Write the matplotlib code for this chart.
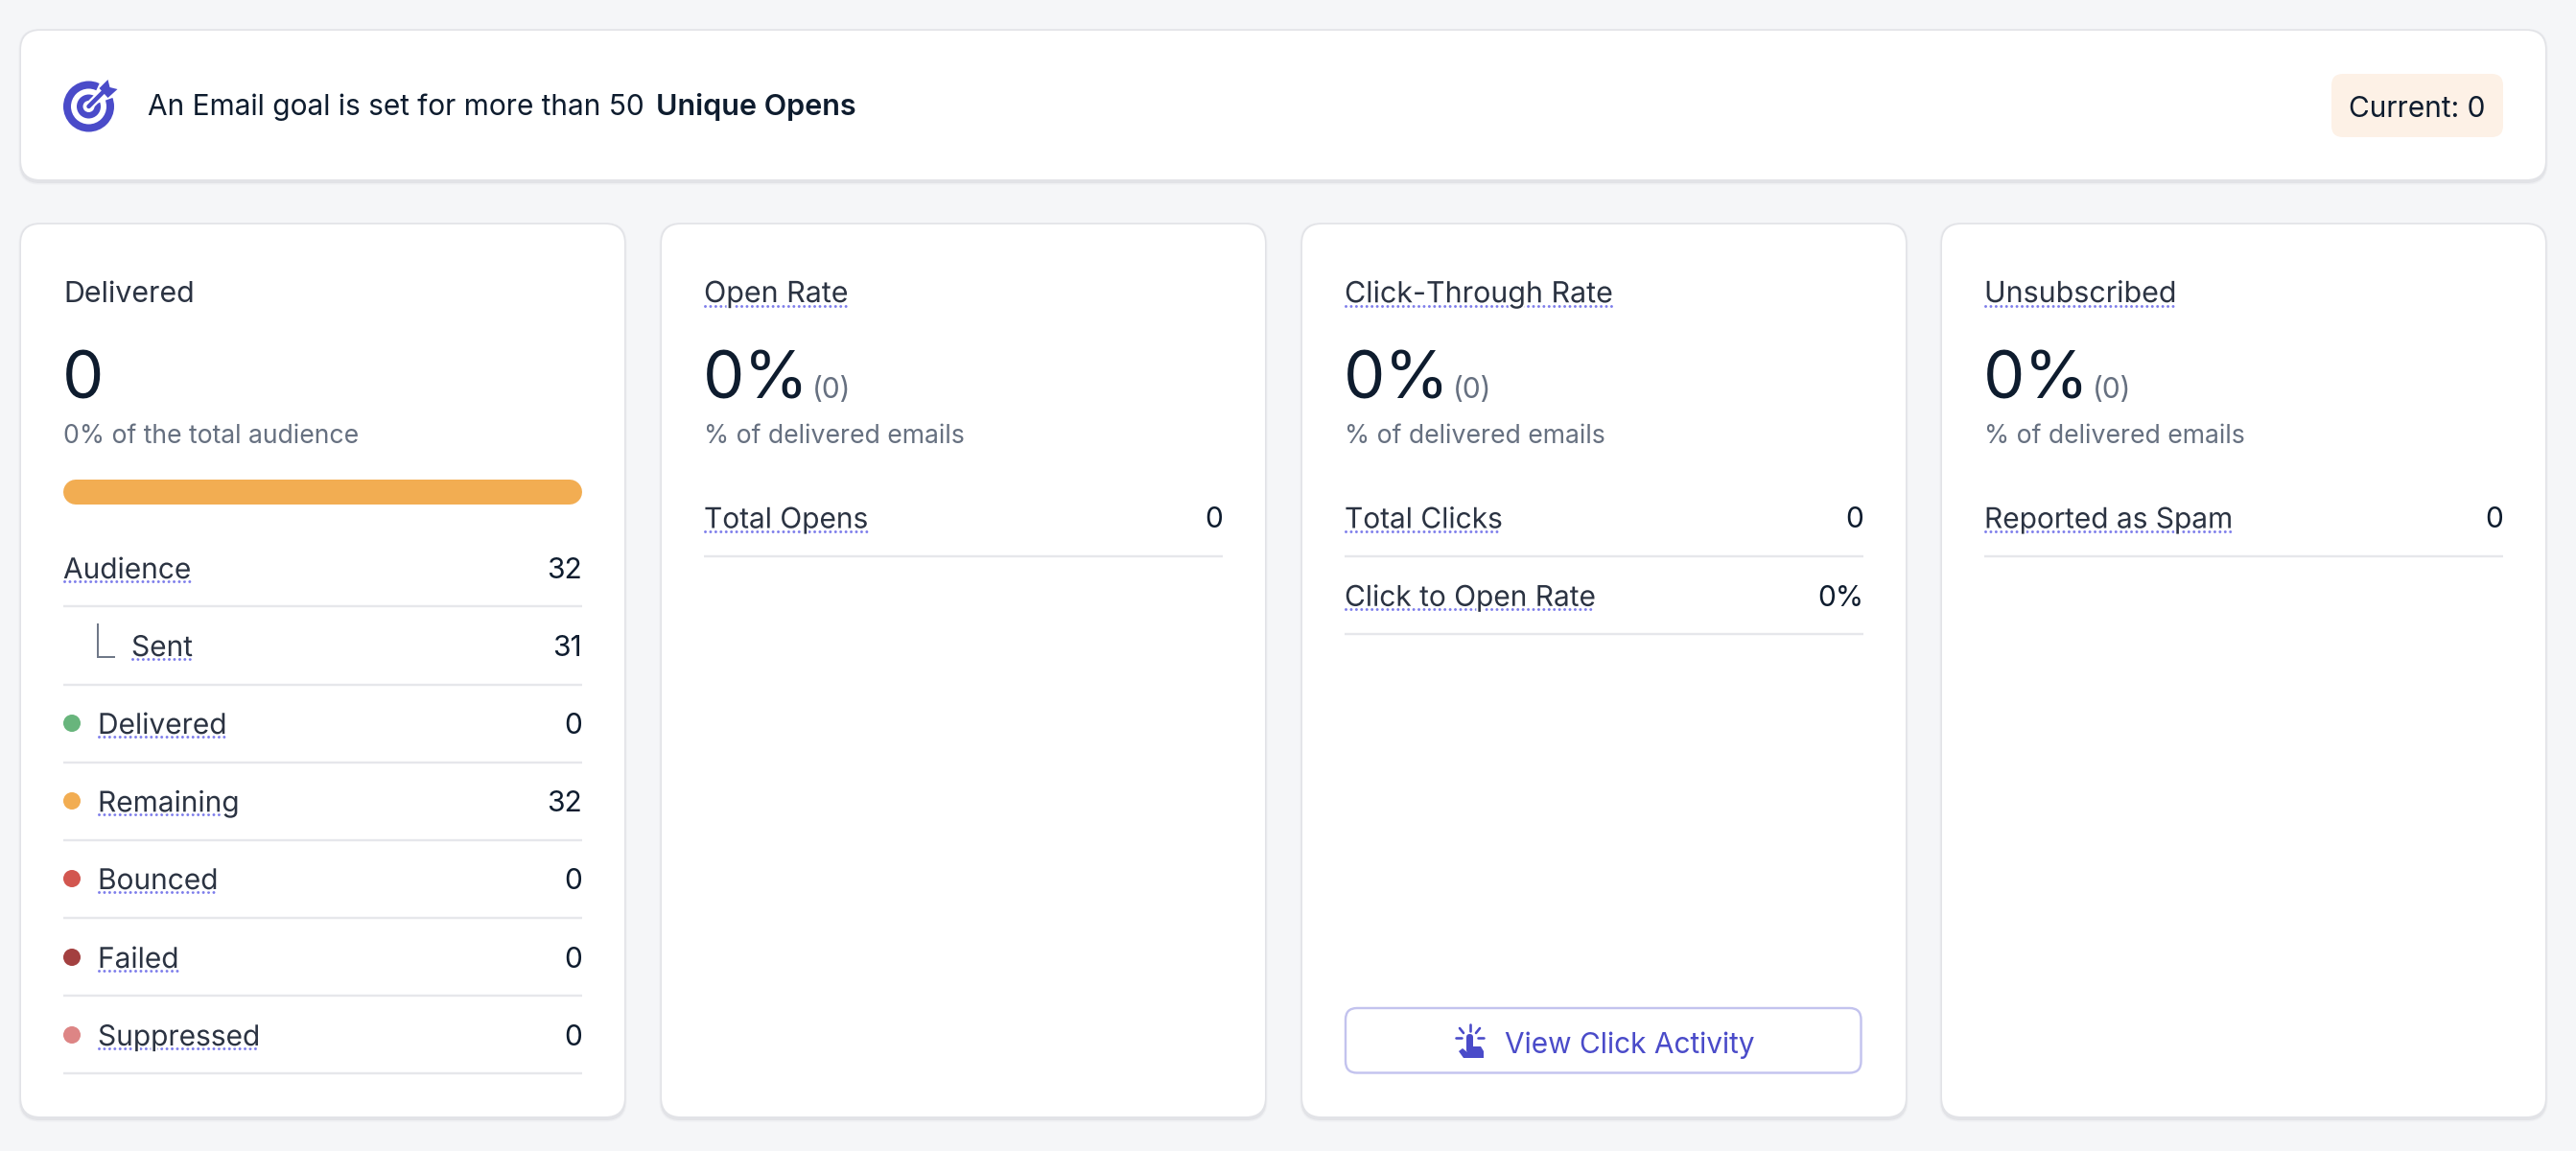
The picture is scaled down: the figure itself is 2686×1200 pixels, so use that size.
import matplotlib
matplotlib.use("Agg")
import matplotlib.pyplot as plt
import matplotlib.patheffects as pe
from matplotlib.patches import FancyBboxPatch, Wedge, Circle, Polygon

plt.rcParams['font.family'] = ['Inter', 'DejaVu Sans']

# ---- content ----
goal_text = "An Email goal is set for more than 50 "
goal_bold = "Unique Opens"
current_label = "Current: 0"

card_titles = ["Delivered", "Open Rate", "Click-Through Rate", "Unsubscribed"]
card_values = ["0", "0%", "0%", "0%"]
card_counts = ["", "(0)", "(0)", "(0)"]
card_notes = ["0% of the total audience", "% of delivered emails",
              "% of delivered emails", "% of delivered emails"]
title_dotted = [False, True, True, True]

delivery_labels = ["Audience", "Sent", "Delivered", "Remaining", "Bounced", "Failed", "Suppressed"]
delivery_values = ["32", "31", "0", "32", "0", "0", "0"]
delivery_colors = [None, None, "#68b57c", "#f2ad52", "#d2564f", "#a34040", "#dd8585"]

open_labels = ["Total Opens"]
open_values = ["0"]
click_labels = ["Total Clicks", "Click to Open Rate"]
click_values = ["0", "0%"]
unsub_labels = ["Reported as Spam"]
unsub_values = ["0"]
button_label = "View Click Activity"

# ---- style ----
BG = "#f5f6f8"; INK = "#0e1c2e"; TITLE = "#2b3342"; GREY = "#667080"
LINE = "#e6e7eb"; DOT = "#7d7deb"; BRAND = "#4a4bc9"
W, H = 2686, 1200
CARD_X = [22, 690, 1358, 2025]
CARD_W = 629
PAD = 44

fig = plt.figure(figsize=(W / 100, H / 100), dpi=100, facecolor=BG)
ax = fig.add_axes([0, 0, 1, 1])
ax.set_xlim(0, W); ax.set_ylim(H, 0); ax.axis("off")

def px(v):
    return v * 72 / 100

def rbox(x0, y0, x1, y1, r, z, fc, ec="none", lw=0):
    ax.add_patch(FancyBboxPatch((x0 + r, y0 + r), x1 - x0 - 2 * r, y1 - y0 - 2 * r,
                                boxstyle=f"round,pad={r},rounding_size={r}", fc=fc, ec=ec, lw=lw, zorder=z))

def card(x0, y0, x1, y1, r=20):
    rbox(x0 - 2.5, y0 - 2, x1 + 2.5, y1 + 5.5, r + 2, 0.9, "#eeeff2")
    rbox(x0 - 1.5, y0 - 1.5, x1 + 1.5, y1 + 4, r + 1, 1, "#e2e3e7")
    rbox(x0, y0, x1, y1, r, 2, "white")

def label(x, y, s, size, color=INK, ha="left", weight="normal", skip=False):
    t = ax.text(x, y, s, fontsize=size, color=color, ha=ha, va="center_baseline", weight=weight, zorder=5)
    if skip:
        t.set_path_effects([pe.withStroke(linewidth=px(4), foreground="white")])
    return t

def dotted(x0, x1, y):
    ax.plot([x0, x1], [y, y], color=DOT, lw=px(3), linestyle=(0, (0.01, 1.8)),
            dash_capstyle="round", zorder=4)

def rule(x0, x1, y):
    ax.plot([x0, x1], [y, y], color=LINE, lw=px(2.4), solid_capstyle="butt", zorder=3)

fig.canvas.draw()
rend = fig.canvas.get_renderer()

ROW_SIZE = 21.5
TITLE_SIZE = 21.9
NOTE_SIZE = 19.15
BIG_SIZE = 49.5

def row(y, text_x, name, value, right):
    t = label(text_x, y, name, ROW_SIZE, TITLE, skip=True)
    bb = t.get_window_extent(rend)
    dotted(text_x + 1, text_x + bb.width - 1, y + 14)
    label(right, y, value, ROW_SIZE, INK, ha="right")

# top card
card(22, 32, 2654, 187)
label(154, 108.5, goal_text, ROW_SIZE, INK)
label(684, 108.5, goal_bold, 22, INK, weight="semibold")
rbox(2431, 77, 2610, 143, 12, 3, "#fdf1e6")
label(2449, 111, current_label, ROW_SIZE, INK)

# target icon
cx, cy = 92.5, 111
ax.add_patch(Circle((cx, cy), 26.5, fc=BRAND, ec="none", zorder=4))
ax.add_patch(Circle((cx, cy), 18.5, fc="white", ec="none", zorder=4))
ax.add_patch(Circle((cx, cy), 12.5, fc=BRAND, ec="none", zorder=4))
ax.add_patch(Circle((cx, cy), 6, fc="white", ec="none", zorder=4))
ax.add_patch(Wedge((cx, cy), 30, -65, -20, fc="white", ec="none", zorder=4))
ax.plot([cx + 1, cx + 20], [cy - 1, cy - 20], color="white", lw=px(9), solid_capstyle="butt", zorder=4.5)
ax.plot([cx, cx + 18], [cy, cy - 18], color=BRAND, lw=px(4.5), solid_capstyle="round", zorder=5)
ax.add_patch(Polygon([(cx + 11, cy - 19), (cx + 20, cy - 28), (cx + 22, cy - 20),
                      (cx + 30, cy - 18), (cx + 20, cy - 9)], fc=BRAND, ec="none", zorder=5))

# four metric cards
for x, title, val, cnt, note, has_dot in zip(CARD_X, card_titles, card_values, card_counts, card_notes, title_dotted):
    card(x, 234, x + CARD_W, 1164)
    tx = x + PAD
    t = label(tx, 304, title, TITLE_SIZE, TITLE, skip=has_dot)
    if has_dot:
        dotted(tx + 1, tx + t.get_window_extent(rend).width - 1, 319)
    label(tx - 1, 390, val, BIG_SIZE, INK)
    if cnt:
        label(tx + 113, 404, cnt, ROW_SIZE, GREY)
    label(tx, 452, note, NOTE_SIZE, GREY)

# delivered card body
x0 = CARD_X[0] + PAD; x1 = x0 + 541
ax.plot([x0 + 13, x1 - 13], [513, 513], color="#f2ad52", lw=px(26), solid_capstyle="round", zorder=3)
row_y = [592, 673, 754, 835, 916, 998, 1079]
sep_y = [632, 714, 795, 876, 957, 1038, 1119]
for name, v, col, y, sy in zip(delivery_labels, delivery_values, delivery_colors, row_y, sep_y):
    text_x = x0 if name == "Audience" else (137 if name == "Sent" else 102)
    row(y, text_x, name, v, x1)
    rule(x0, x1, sy)
    if col:
        ax.add_patch(Circle((75, y), 9, fc=col, ec="none", zorder=5))
ax.plot([102, 102, 119], [651, 685, 685], color="#6f7888", lw=px(2), solid_joinstyle="miter", zorder=4)

def simple_rows(cx_left, labels, values):
    xl = cx_left + PAD; xr = xl + 541
    for i, (n, v) in enumerate(zip(labels, values)):
        row(539.5 + i * 81, xl, n, v, xr)
        rule(xl, xr, 580 + i * 81)

simple_rows(CARD_X[1], open_labels, open_values)
simple_rows(CARD_X[2], click_labels, click_values)
simple_rows(CARD_X[3], unsub_labels, unsub_values)

# button
rbox(1403, 1051, 1940.5, 1118.5, 12, 3, "white", "#c3c3ee", px(2.4))
label(1569, 1087, button_label, ROW_SIZE, BRAND)

# pointer icon
ax.add_patch(FancyBboxPatch((1529, 1078), 7, 20, boxstyle="round,pad=0,rounding_size=3.5", fc=BRAND, ec="none", zorder=5))
ax.add_patch(Polygon([(1521, 1096), (1525, 1093), (1530, 1097), (1530, 1091), (1544, 1091), (1547, 1096),
                      (1547, 1103), (1526, 1103)], fc=BRAND, ec="none", zorder=5))
for a, b in (((1532.5, 1068), (1532.5, 1075)), ((1522, 1072), (1526, 1077)), ((1543, 1072), (1539, 1077)),
             ((1518, 1082), (1524, 1082)), ((1541, 1082), (1547, 1082))):
    ax.plot([a[0], b[0]], [a[1], b[1]], color=BRAND, lw=px(2.6), solid_capstyle="round", zorder=5)

fig.savefig("out.png", dpi=100, facecolor=BG)
